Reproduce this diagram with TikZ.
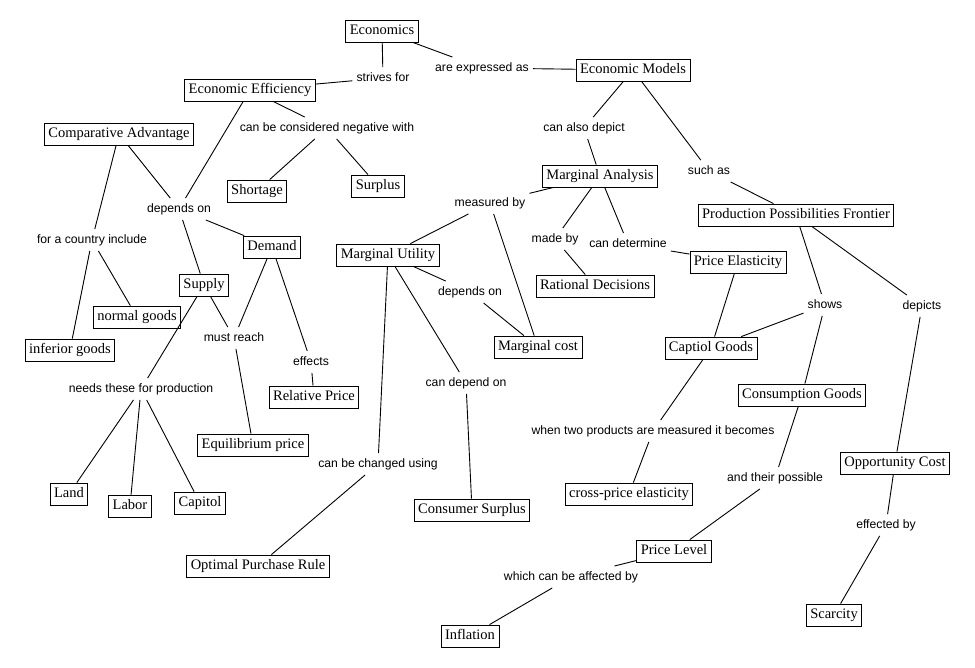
\documentclass[tikz,border=0pt]{standalone}
\usepackage{fontspec}
\setmainfont{Liberation Serif}
\newfontfamily\lblfont{Liberation Sans}
\begin{document}
\begin{tikzpicture}[x=1pt,y=-1pt,
  concept/.style={draw=black, line width=0.8pt, fill=white,
    font=\fontsize{14.5}{16}\selectfont, inner xsep=4pt, inner ysep=4pt,
    text height=10.5pt, text depth=3.5pt},
  link/.style={font=\lblfont\fontsize{12.2}{14}\selectfont,
    inner xsep=4pt, inner ysep=5pt, text height=9pt, text depth=2.5pt},
  conn/.style={line width=0.9pt, draw=black}]
\fill[white] (0,0) rectangle (975,667);
\useasboundingbox (0,0) rectangle (975,667);

% concepts
\node[concept] (econ) at (382,31) {Economics};
\node[concept] (ee) at (250,90) {Economic Efficiency};
\node[concept] (em) at (633,70) {Economic Models};
\node[concept] (ca) at (119,134) {Comparative Advantage};
\node[concept] (short) at (257,191) {Shortage};
\node[concept] (surp) at (378,186) {Surplus};
\node[concept] (ma) at (600,176) {Marginal Analysis};
\node[concept] (ppf) at (796,215) {Production Possibilities Frontier};
\node[concept] (dem) at (272,247) {Demand};
\node[concept] (mu) at (388,255) {Marginal Utility};
\node[concept] (pe) at (738,262) {Price Elasticity};
\node[concept] (sup) at (204,285) {Supply};
\node[concept] (rd) at (595,286) {Rational Decisions};
\node[concept] (ng) at (137,317) {normal goods};
\node[concept] (ig) at (70,350) {inferior goods};
\node[concept] (mc) at (538,347) {Marginal cost};
\node[concept] (cap) at (711,348) {Captiol Goods};
\node[concept] (rp) at (314,397) {Relative Price};
\node[concept] (cg) at (802,395) {Consumption Goods};
\node[concept] (eq) at (253,445) {Equilibrium price};
\node[concept] (oc) at (895,463) {Opportunity Cost};
\node[concept] (land) at (69,494) {Land};
\node[concept] (labor) at (130,506) {Labor};
\node[concept] (capitol) at (200,503) {Capitol};
\node[concept] (cpe) at (629,494) {cross-price elasticity};
\node[concept] (cs) at (472,510) {Consumer Surplus};
\node[concept] (opr) at (258,566) {Optimal Purchase Rule};
\node[concept] (pl) at (674,551) {Price Level};
\node[concept] (inf) at (470,636) {Inflation};
\node[concept] (scar) at (834,615) {Scarcity};

% linking phrases
\node[link] (l1) at (383,78) {strives for};
\node[link] (l2) at (482,68) {are expressed as};
\node[link] (l3) at (327,128) {can be considered negative with};
\node[link] (l4) at (584,128) {can also depict};
\node[link] (l5) at (709,171) {such as};
\node[link] (l6) at (179,209) {depends on};
\node[link] (l7) at (92,240) {for a country include};
\node[link] (l8) at (490,203) {measured by};
\node[link] (l9) at (555,239) {made by};
\node[link] (l10) at (628,244) {can determine};
\node[link] (l11) at (470,292) {depends on};
\node[link] (l12) at (234,338) {must reach};
\node[link] (l13) at (825,305) {shows};
\node[link] (l14) at (922,306) {depicts};
\node[link] (l15) at (311,362) {effects};
\node[link] (l16) at (141,389) {needs these for production};
\node[link] (l17) at (466,383) {can depend on};
\node[link] (l18) at (653,431) {when two products are measured it becomes};
\node[link] (l19) at (378,464) {can be changed using};
\node[link] (l20) at (775,478) {and their possible};
\node[link] (l21) at (886,525) {effected by};
\node[link] (l22) at (571,577) {which can be affected by};

% connectors
\foreach \a/\b in {econ/l1, l1/ee, econ/l2, l2/em, ee/l3, l3/short, l3/surp,
  ee/l6, ca/l6, l6/dem, l6/sup, ca/l7, l7/ng, l7/ig,
  sup/l16, l16/land, l16/labor, l16/capitol,
  sup/l12, dem/l12, l12/eq, dem/l15, l15/rp,
  em/l4, l4/ma, em/l5, l5/ppf,
  ma/l8, l8/mu, l8/mc, ma/l9, l9/rd, ma/l10, l10/pe,
  mu/l11, l11/mc, mu/l19, l19/opr, mu/l17, l17/cs,
  pe/cap, ppf/l13, l13/cap, l13/cg, ppf/l14, l14/oc,
  cap/l18, l18/cpe, cg/l20, l20/pl, oc/l21, l21/scar, pl/l22, l22/inf}
  \draw[conn] (\a) -- (\b);
\end{tikzpicture}
\end{document}
